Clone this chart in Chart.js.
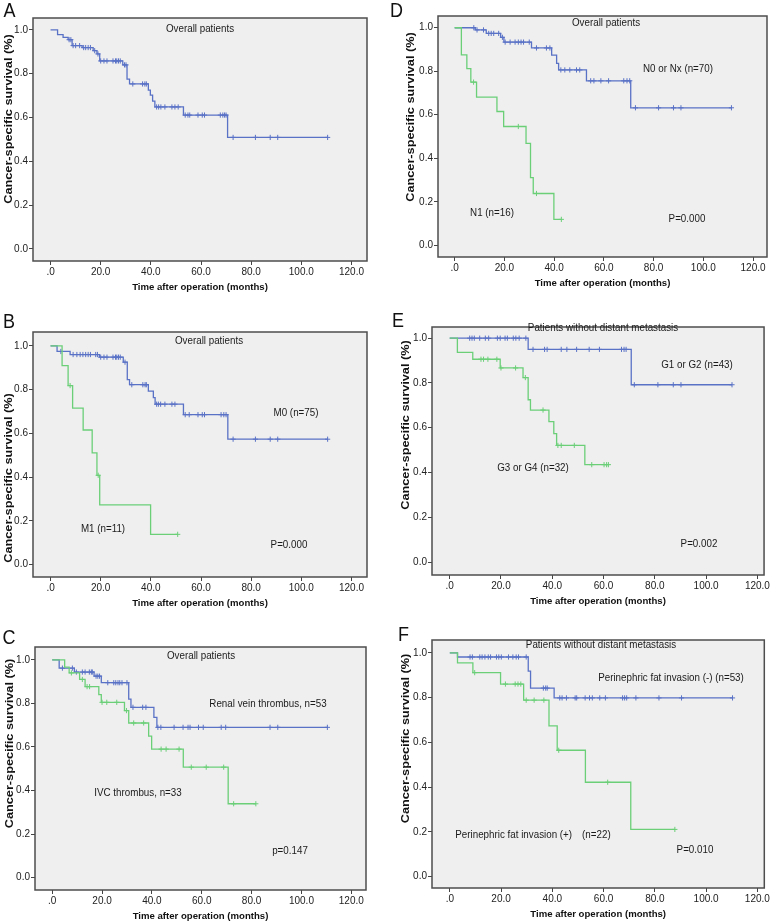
<!DOCTYPE html>
<html><head><meta charset="utf-8">
<script src="https://cdn.jsdelivr.net/npm/chart.js@4.4.1/dist/chart.umd.min.js"></script>
<style>
html,body{margin:0;padding:0;background:#fff;width:778px;height:923px;overflow:hidden;font-family:Arial,"Liberation Sans",sans-serif;}
canvas{position:absolute;}
.t{position:absolute;white-space:nowrap;transform:translate(-50%,-50%) scaleY(1.2);font-size:9.8px;color:#1a1a1a;line-height:1;}
.L{position:absolute;white-space:nowrap;transform:translate(-50%,-50%) scaleY(1.15);font-size:18px;color:#111;line-height:1;}
</style></head><body>
<script>
// ---------- tick values / labels ----------
const xTickValues = [0, 20, 40, 60, 80, 100, 120];
const xTickLabels = ['.0', '20.0', '40.0', '60.0', '80.0', '100.0', '120.0'];
const yTickValues = [0, 0.2, 0.4, 0.6, 0.8, 1.0];
const yTickLabels = ['0.0', '0.2', '0.4', '0.6', '0.8', '1.0'];
const xAxisTitle = 'Time after operation (months)';
const yAxisTitle = 'Cancer-specific survival (%)';

// ---------- Panel A: overall ----------
const timeA   = [0, 2.8, 5, 7, 8.6, 12.6, 17, 18.5, 19.6, 28.8, 30.5, 31.5, 39, 39.8, 40.7, 41.6, 53, 70.6];
const survA   = [1, 0.978, 0.966, 0.955, 0.928, 0.919, 0.905, 0.89, 0.858, 0.84, 0.775, 0.753, 0.725, 0.702, 0.675, 0.648, 0.611, 0.509];
const censorA = [7.4, 8.1, 9, 10, 11.6, 13.2, 14, 15, 15.9, 17.6, 18.9, 20, 21.3, 22.5, 24.9, 25.9, 26.4, 27.1, 27.8, 29.5, 30.1, 32.8, 36.7, 37.6, 38.2, 42.3, 43.1, 44, 45.6, 48.4, 49.6, 50.9, 53.7, 54.8, 55.5, 58.8, 60.5, 61.4, 67.7, 68.7, 69.4, 70, 72.8, 81.7, 87.6, 90.6, 110.5];

// ---------- Panel B: M0 / M1 ----------
const timeB0   = [0, 2.6, 7.8, 19.5, 29, 30.6, 31.5, 39, 41, 41.7, 53, 70.7];
const survB0   = [1, 0.974, 0.96, 0.948, 0.925, 0.845, 0.822, 0.793, 0.763, 0.733, 0.685, 0.573];
const censorB0 = [4.1, 9, 10.5, 11.8, 12.9, 14, 15, 15.9, 18, 18.7, 20, 21.3, 22.5, 24.9, 25.9, 26.4, 27.1, 27.8, 29.7, 32.4, 36.8, 37.7, 38.2, 42.3, 43, 43.9, 45.6, 48.4, 49.6, 53.7, 55.3, 58.8, 60.5, 61.4, 68, 69.1, 70, 72.8, 81.7, 87.6, 90.6, 110.5];
const timeB1   = [0, 4.6, 7, 8.8, 13, 16.6, 18.5, 19.6, 39.9];
const survB1   = [1, 0.909, 0.818, 0.715, 0.615, 0.51, 0.408, 0.273, 0.138];
const censorB1 = [7.8, 19, 50.7];

// ---------- Panel C: renal vein / IVC thrombus ----------
const timeC0   = [0, 2.8, 8.9, 16.8, 19.7, 30.7, 31.6, 40.8, 42];
const survC0   = [1, 0.962, 0.944, 0.925, 0.895, 0.82, 0.782, 0.736, 0.69];
const censorC0 = [4.1, 8.1, 9.7, 12.1, 13.2, 14.9, 15.7, 16.1, 17.6, 18.3, 19, 22.3, 24.7, 25.5, 26.4, 27.1, 28, 30, 32.4, 36.3, 37.6, 42.4, 43.6, 48.9, 52.5, 54.5, 55.3, 58.7, 60.6, 67.8, 69.6, 87.4, 90.5, 110.4];
const timeC1   = [0, 5, 6.8, 11, 13.2, 18.7, 19.7, 29, 30.7, 38.7, 39.9, 52.6, 70.6];
const survC1   = [1, 0.967, 0.94, 0.91, 0.877, 0.84, 0.805, 0.767, 0.71, 0.65, 0.59, 0.507, 0.339];
const censorC1 = [7.7, 12.1, 14, 15, 20, 21.9, 25.9, 29.8, 32.7, 36.7, 43.7, 45.7, 50.9, 55.8, 61.8, 68.8, 72.8, 81.7];

// ---------- Panel D: N0/Nx / N1 ----------
const timeD0   = [0, 8.3, 12.7, 18.5, 19.8, 30.9, 39, 41, 41.8, 53, 70.8];
const survD0   = [1, 0.99, 0.974, 0.956, 0.934, 0.907, 0.874, 0.836, 0.806, 0.756, 0.632];
const censorD0 = [7.7, 9, 11.6, 13.7, 14.7, 15.7, 17.7, 19.2, 20.3, 22.3, 24.3, 25.6, 26.7, 27.7, 30, 32.9, 36.9, 38.3, 42.7, 44.3, 46.3, 49, 50.3, 54.7, 56, 58.8, 61.9, 68, 69.3, 70.4, 72.7, 82, 88, 91, 111.3];
const timeD1   = [0, 2.7, 4.9, 6.5, 8.8, 17, 19.7, 28.7, 30.5, 31.6, 39.9];
const survD1   = [1, 0.875, 0.812, 0.75, 0.681, 0.615, 0.546, 0.468, 0.311, 0.238, 0.119];
const censorD1 = [7.6, 25.6, 32.9, 42.9];

// ---------- Panel E: G1/G2 / G3/G4 ----------
const timeE0   = [0, 30.6, 70.8];
const survE0   = [1, 0.95, 0.792];
const censorE0 = [7.8, 8.7, 9.6, 11.7, 13.9, 15.2, 18.6, 19.7, 21.6, 22.5, 24.8, 25.8, 27.1, 29.7, 32.5, 37, 38, 43.5, 45.7, 49.5, 54.4, 58.4, 67, 68, 68.8, 72, 81.2, 87.2, 90.2, 110.1];
const timeE1   = [0, 3, 9, 19.7, 28.6, 30.6, 31.5, 38.7, 40.6, 41.7, 52.7];
const survE1   = [1, 0.937, 0.906, 0.867, 0.824, 0.725, 0.679, 0.627, 0.574, 0.521, 0.435];
const censorE1 = [12.2, 13.2, 14.9, 18.4, 20, 25.7, 29.5, 36.4, 42.2, 43.5, 48.6, 55.4, 60.2, 61.2, 61.9];

// ---------- Panel F: perinephric fat invasion ----------
const timeF0   = [0, 3, 30.6, 31.5, 40.7];
const survF0   = [1, 0.982, 0.919, 0.843, 0.799];
const censorF0 = [7.9, 8.8, 11.7, 12.6, 13.7, 15, 15.9, 18.2, 19.1, 20.1, 22.9, 24.6, 25.9, 26.8, 29.8, 36.5, 37.4, 38, 42.9, 43.8, 45.5, 48.9, 49.5, 52.8, 54.5, 55.6, 58.5, 60.7, 67.4, 68.2, 69, 72.6, 81.6, 90.4, 110.3];
const timeF1   = [0, 3, 9, 19.8, 28.8, 38.7, 41.9, 52.9, 70.6];
const survF1   = [1, 0.956, 0.912, 0.861, 0.789, 0.674, 0.565, 0.422, 0.211];
const censorF1 = [9.7, 21.7, 25.5, 26.6, 27.7, 29.8, 32.9, 36.7, 42.5, 61.6, 87.8];

const BLUE = '#5a72c6';
const GREEN = '#6bcf78';

// ---------- layout (frames in page pixels, axis ranges) ----------
const panels = [
  {letter:'A', lp:[9.5,10], frame:{L:33,T:14,R:369,B:261}, x:[-7,126.2], y:[-0.055,1.054], yShift:-20.5, yDx:-24,
   series:[[timeA,survA,censorA,BLUE]],
   notes:[['Overall patients',200,28]]},
  {letter:'B', lp:[9,321], frame:{L:33,T:328,R:369,B:577}, x:[-7,126.2], y:[-0.057,1.063], yShift:23.5, yDx:-24,
   series:[[timeB1,survB1,censorB1,GREEN],[timeB0,survB0,censorB0,BLUE]],
   notes:[['Overall patients',209,340],['M0 (n=75)',296,412],['M1 (n=11)',103,528],['P=0.000',289,544]]},
  {letter:'C', lp:[9,636.5], frame:{L:35,T:643,R:368,B:890}, x:[-6.9,125.9], y:[-0.057,1.059], yShift:-25, yDx:-25,
   series:[[timeC1,survC1,censorC1,GREEN],[timeC0,survC0,censorC0,BLUE]],
   notes:[['Overall patients',201,655],['Renal vein thrombus, n=53',268,703],['IVC thrombus, n=33',138,792],['p=0.147',290,850]]},
  {letter:'D', lp:[396.5,9.5], frame:{L:438,T:12,R:769,B:257}, x:[-6.7,125.6], y:[-0.054,1.054], yShift:-19.5, yDx:-27,
   series:[[timeD1,survD1,censorD1,GREEN],[timeD0,survD0,censorD0,BLUE]],
   notes:[['Overall patients',606,22],['N0 or Nx (n=70)',678,68],['N1 (n=16)',492,212],['P=0.000',687,218]]},
  {letter:'E', lp:[398,319.5], frame:{L:432,T:323,R:768,B:575}, x:[-6.9,122.6], y:[-0.058,1.05], yShift:-26, yDx:-26,
   series:[[timeE1,survE1,censorE1,GREEN],[timeE0,survE0,censorE0,BLUE]],
   notes:[['Patients without distant metastasis',603,327],['G1 or G2 (n=43)',697,364],['G3 or G4 (n=32)',533,467],['P=0.002',699,543]]},
  {letter:'F', lp:[403.5,633.5], frame:{L:432,T:636,R:768,B:888}, x:[-6.95,122.7], y:[-0.051,1.058], yShift:-25.5, yDx:-26,
   series:[[timeF1,survF1,censorF1,GREEN],[timeF0,survF0,censorF0,BLUE]],
   notes:[['Patients without distant metastasis',601,644],['Perinephric fat invasion (-) (n=53)',671,677],['Perinephric fat invasion (+)\u3000(n=22)',533,834],['P=0.010',695,849]]}
];

function survAt(times, surv, t) {
  let s = surv[0];
  for (let i = 0; i < times.length; i++) { if (times[i] <= t) s = surv[i]; }
  return s;
}
function curve(times, surv, censors) {
  const pts = times.map((t, i) => ({x: t, y: surv[i]}));
  const end = Math.max(times[times.length - 1], ...censors);
  pts.push({x: end, y: surv[surv.length - 1]});
  return pts;
}

const framePlugin = {
  id: 'frameBox',
  beforeDraw(chart) {
    const {ctx, chartArea: a} = chart;
    ctx.save();
    ctx.fillStyle = '#efefef';
    ctx.fillRect(a.left, a.top, a.right - a.left, a.bottom - a.top);
    ctx.restore();
  },
  afterDraw(chart, args, opts) {
    const {ctx, chartArea: a} = chart;
    ctx.save();
    ctx.strokeStyle = '#4d4d4d';
    ctx.lineWidth = 1.5;
    ctx.strokeRect(a.left, a.top, a.right - a.left, a.bottom - a.top);
    // rotated y-axis title (stretched along its length like the source)
    ctx.translate(a.left + opts.dx, (a.top + a.bottom) / 2 + opts.dy);
    ctx.rotate(-Math.PI / 2);
    ctx.scale(1.27, 1);
    ctx.font = 'bold 10px Arial, "Liberation Sans", sans-serif';
    ctx.fillStyle = '#111';
    ctx.textAlign = 'center';
    ctx.textBaseline = 'middle';
    ctx.fillText(opts.text, 0, 0);
    ctx.restore();
  }
};

const padL = 34, padT = 3, padR = 3, xH = 36;
panels.forEach(p => {
  const f = p.frame;
  const w = (f.R - f.L) + padL + padR;
  const h = (f.B - f.T) + padT + xH;
  const c = document.createElement('canvas');
  c.width = w; c.height = h;
  c.style.left = (f.L - padL) + 'px';
  c.style.top = (f.T - padT) + 'px';
  c.style.width = w + 'px'; c.style.height = h + 'px';
  document.body.appendChild(c);

  const datasets = [];
  p.series.forEach(([times, surv, cens, col]) => {
    datasets.push({
      data: cens.map(t => ({x: t, y: survAt(times, surv, t)})),
      showLine: false, pointStyle: 'cross', pointRadius: 2.6, borderColor: col, borderWidth: 1,
      backgroundColor: col
    });
    datasets.push({
      data: curve(times, surv, cens), stepped: true, borderColor: col, borderWidth: 1.3,
      pointRadius: 0, fill: false
    });
  });

  new Chart(c, {
    type: 'line',
    data: {datasets},
    options: {
      responsive: false, animation: false, devicePixelRatio: 1,
      layout: {padding: {left: 0, top: padT, right: padR, bottom: 0}},
      plugins: {legend: {display: false}, tooltip: {enabled: false},
        frameBox: {text: yAxisTitle, dx: p.yDx, dy: p.yShift}},
      scales: {
        x: {
          type: 'linear', min: p.x[0], max: p.x[1],
          afterBuildTicks: s => { s.ticks = xTickValues.map(v => ({value: v})); },
          afterFit: s => { s.height = xH; },
          ticks: {callback: (v, i) => xTickLabels[i], font: {size: 10, family: 'Arial, "Liberation Sans"'}, color: '#222', padding: 1, maxRotation: 0, autoSkip: false},
          grid: {drawOnChartArea: false, drawTicks: true, tickLength: 4, tickColor: '#444', tickWidth: 1},
          border: {display: false},
          title: {display: true, text: xAxisTitle, color: '#111',
                  font: {size: 9.6, weight: 'bold', family: 'Arial, "Liberation Sans"'}, padding: {top: 0, bottom: 4.2}}
        },
        y: {
          type: 'linear', min: p.y[0], max: p.y[1],
          afterBuildTicks: s => { s.ticks = yTickValues.map(v => ({value: v})); },
          afterFit: s => { s.width = padL; },
          ticks: {callback: (v, i) => yTickLabels[i], font: {size: 10, family: 'Arial, "Liberation Sans"'}, color: '#222', padding: 1},
          grid: {drawOnChartArea: false, drawTicks: true, tickLength: 4, tickColor: '#444', tickWidth: 1},
          border: {display: false}
        }
      }
    },
    plugins: [framePlugin]
  });

  const L = document.createElement('div');
  L.className = 'L'; L.textContent = p.letter;
  L.style.left = p.lp[0] + 'px'; L.style.top = p.lp[1] + 'px';
  document.body.appendChild(L);
  p.notes.forEach(([txt, cx, cy]) => {
    const d = document.createElement('div');
    d.className = 't'; d.textContent = txt;
    d.style.left = cx + 'px'; d.style.top = cy + 'px';
    document.body.appendChild(d);
  });
});
</script>
</body></html>
